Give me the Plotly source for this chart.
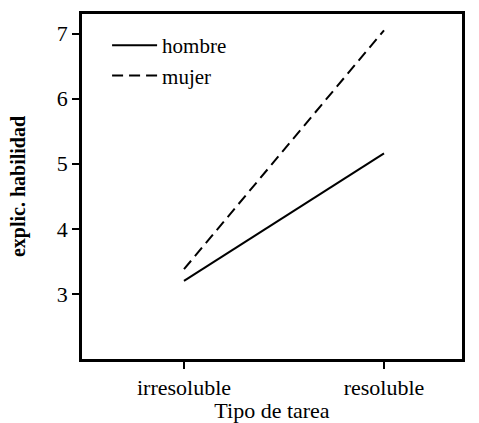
import plotly.graph_objects as go

categories = ["irresoluble", "resoluble"]
hombre = [3.20, 5.16]
mujer = [3.38, 7.05]
y_ticks = [3, 4, 5, 6, 7]

FONT = "Liberation Serif, Times New Roman, serif"

fig = go.Figure()
fig.add_trace(go.Scatter(x=[0, 1], y=hombre, mode="lines", name="hombre",
                         line=dict(color="black", width=2, dash="solid")))
fig.add_trace(go.Scatter(x=[0, 1], y=mujer, mode="lines", name="mujer",
                         line=dict(color="black", width=2, dash="11px,6px")))

fig.update_layout(
    width=479, height=423,
    margin=dict(l=82, r=17, t=14, b=64),
    paper_bgcolor="white", plot_bgcolor="white",
    font=dict(family=FONT, color="black", size=21),
    showlegend=True,
    legend=dict(x=0.066, y=0.968, xanchor="left", yanchor="top",
                bgcolor="rgba(0,0,0,0)", font=dict(size=21, family=FONT),
                tracegroupgap=0, itemwidth=45),
    xaxis=dict(
        range=[-0.51, 1.39], tickmode="array", tickvals=[0, 1], ticktext=categories,
        showgrid=False, zeroline=False, showline=True, linecolor="black", linewidth=2.5,
        mirror=True, ticks="outside", ticklen=7, tickwidth=2, tickcolor="black",
        tickfont=dict(size=22, family=FONT), automargin=False,
        title=dict(text="Tipo de tarea", font=dict(size=22, family=FONT), standoff=2),
    ),
    yaxis=dict(
        range=[2.0, 7.3], tickmode="array", tickvals=y_ticks,
        showgrid=False, zeroline=False, showline=True, linecolor="black", linewidth=2.5,
        mirror=True, ticks="outside", ticklen=7, tickwidth=2, tickcolor="black",
        tickfont=dict(size=22, family=FONT), automargin=False,
        title=dict(text="<b>explic. habilidad</b>", font=dict(size=20, family=FONT), standoff=26),
    ),
)

fig.write_html("out.html", config={"displayModeBar": False},
               post_script="document.body.style.margin='0';")
